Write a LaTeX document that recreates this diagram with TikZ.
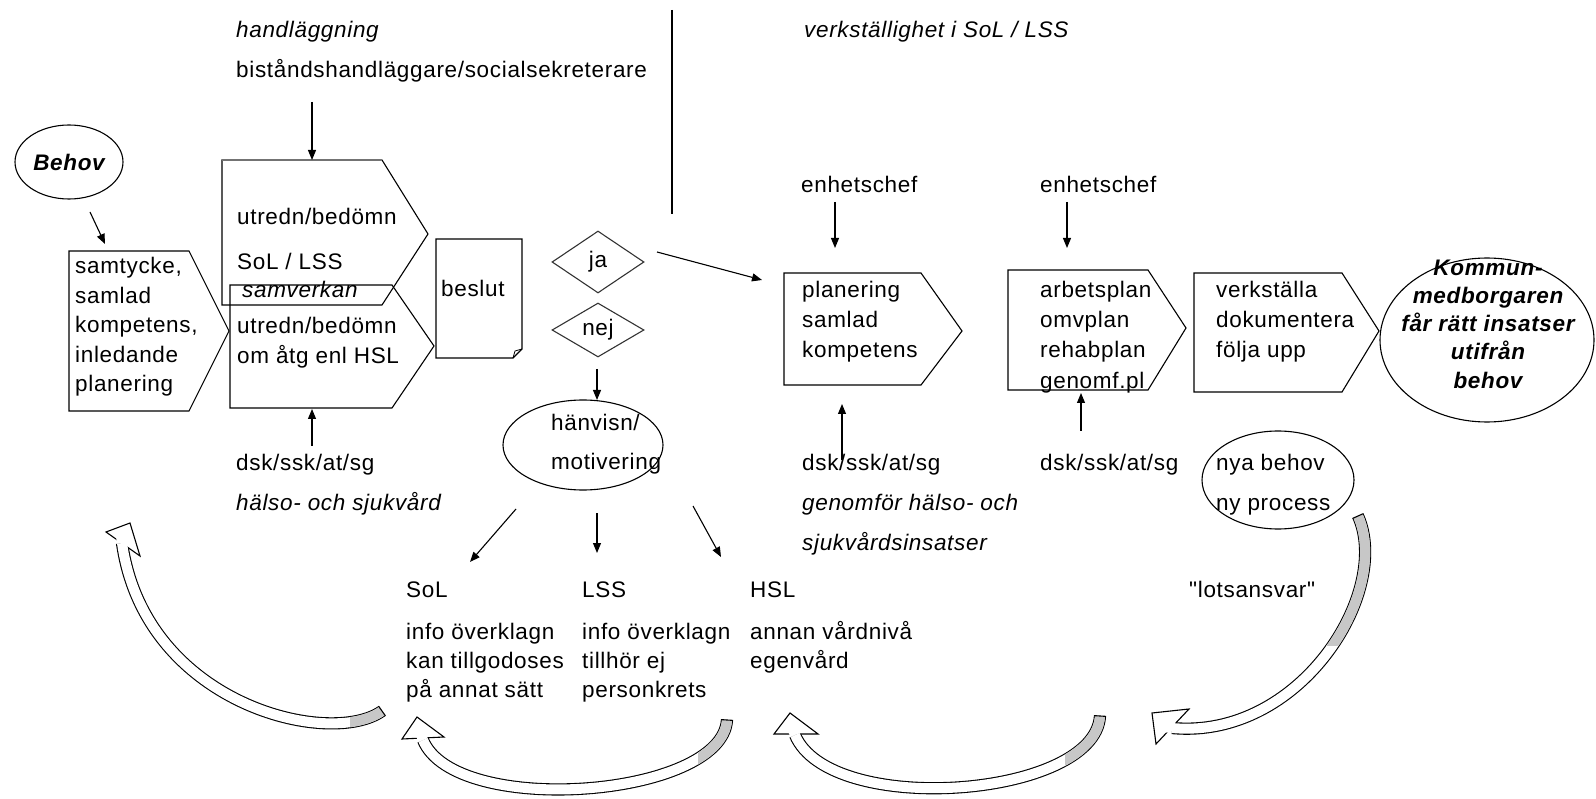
\documentclass[tikz,border=0pt]{standalone}
\usepackage{fontspec}
\setmainfont{Liberation Sans}[LetterSpace=3]
\newfontfamily\qfont{Liberation Sans}[LetterSpace=3, Ligatures=TeXOff]
\usetikzlibrary{shapes.geometric,arrows.meta,calc}
\newcommand{\myfs}{\fontsize{22.5}{29.5}\selectfont}
\newcommand{\bandarrow}[4]{%
  \draw[bandout] (#1T) .. controls (#1C1) and (#1C2) .. (#1E);
  \draw[headst] #2;
  \draw[bandin] (#1T) .. controls (#1C1) and (#1C2) .. (#1E);
  \draw[bandin] (#1E) -- ($(#1E)!-#4!(#1C2)$);
  \begin{scope}
    \clip #3;
    \draw[bandgray] (#1T) .. controls (#1C1) and (#1C2) .. (#1E);
  \end{scope}
  \draw[line width=1.1pt] ($(#1T)!6pt!90:(#1C1)$) -- ($(#1T)!6pt!-90:(#1C1)$);
}
\begin{document}
\begin{tikzpicture}[x=1pt,y=-1pt,
  tx/.style={inner sep=0pt, anchor=base west, font=\myfs},
  itx/.style={inner sep=0pt, anchor=base west, font=\myfs\itshape},
  bitx/.style={inner sep=0pt, anchor=base, font=\myfs\bfseries\itshape},
  shp/.style={draw=black, line width=1.1pt, line join=miter},
  arr/.style={draw=black, line width=1.1pt, -{Triangle[length=10pt,width=8pt]}},
  ell/.style={draw=black, line width=1.1pt, ellipse, inner sep=0pt},
  dia/.style={draw=black!80, line width=1.1pt, diamond, inner sep=0pt, minimum width=92pt, minimum height=62pt, font=\myfs},
  bandout/.style={draw=black, line width=12.2pt},
  bandin/.style={draw=white, line width=10pt},
  bandgray/.style={draw=black!22, line width=10pt},
  headst/.style={fill=white, draw=black, line width=1.1pt, line join=miter},
]
\useasboundingbox (0,0) rectangle (1596,799);

% top texts
\node[itx] (hl) at (236,38) {handläggning};
\node[tx] (bh) at (236,78) {biståndshandläggare/socialsekreterare};
\node[itx] (vk) at (804,38) {verkställighet i SoL / LSS};
\coordinate (vl1) at (672,10); \coordinate (vl2) at (672,214);
\draw[line width=1.3pt] (vl1) -- (vl2);
\node[tx] (ec1) at (801,193) {enhetschef};
\node[tx] (ec2) at (1040,193) {enhetschef};

% Behov
\node[ell, minimum width=108pt, minimum height=74pt, font=\myfs\bfseries\itshape] (behov) at (69,162) {Behov};
\coordinate (ba1) at (90,212); \coordinate (ba2) at (105,244);
\draw[arr] (ba1) -- (ba2);

% samtycke pentagon
\draw[shp] (69,251) coordinate (st) -- (189,251) -- (229,331) -- (189,411) -- (69,411) -- cycle;
\node[tx] (st1) at (75,274) {samtycke,};
\node[tx] (st2) at (75,303.5) {samlad};
\node[tx] (st3) at (75,333) {kompetens,};
\node[tx] (st4) at (75,362.5) {inledande};
\node[tx] (st5) at (75,392) {planering};

% upper and lower pentagons
\draw[shp] (222,160) coordinate (up) -- (382,160) -- (428,234) -- (382,305) -- (222,305) -- cycle;
\draw[draw=black!55, line width=2.6pt] (222,160) -- (382,160);
\draw[shp] (230,285) -- (392,285) -- (434,346) -- (392,408) coordinate (lowb) -- (230,408) -- cycle;
\node[tx] (u1) at (237,225) {utredn/bedömn};
\node[tx] (u2) at (237,270) {SoL / LSS};
\node[itx] (sv) at (242,298) {samverkan};
\node[tx] (l1) at (237,334) {utredn/bedömn};
\node[tx] (l2) at (237,364) {om åtg enl HSL};
\coordinate (ta1) at (312,102); \coordinate (ta2) at (312,160);
\draw[arr] (ta1) -- (ta2);
\coordinate (tb1) at (312,446); \coordinate (tb2) at (312,409);
\draw[arr] (tb1) -- (tb2);
\node[tx] (dsk1) at (236,470) {dsk/ssk/at/sg};
\node[itx] (hs) at (236,510) {hälso- och sjukvård};

% beslut
\draw[shp] (436,239) -- (522,239) -- (522,349) -- (513,358) -- (436,358) -- cycle;
\draw[draw=black, line width=0.8pt] (513,358) -- (515,351) -- (522,349);
\node[tx] (bs) at (441,297) {beslut};

% diamonds
\node[dia] (ja) at (598,262) {ja};
\node[dia, minimum height=54pt] (nej) at (598,330) {nej};
\coordinate (j1) at (657,252); \coordinate (j2) at (762,280);
\draw[arr] (j1) -- (j2);
\coordinate (n1) at (597,369); \coordinate (n2) at (597,400);
\draw[arr] (n1) -- (n2);

% hänvisn
\node[ell, minimum width=160pt, minimum height=90pt] (hv) at (583,445) {};
\node[tx] (hv1) at (551,431) {hänvisn/};
\node[tx] (hv2) at (551,469) {motivering};
\coordinate (h1a) at (516,509); \coordinate (h1b) at (470,562);
\coordinate (h2a) at (597,513); \coordinate (h2b) at (597,553);
\coordinate (h3a) at (693,506); \coordinate (h3b) at (721,557);
\draw[arr] (h1a) -- (h1b);
\draw[arr] (h2a) -- (h2b);
\draw[arr] (h3a) -- (h3b);

% SoL / LSS / HSL blocks
\node[tx] (s1) at (406,597) {SoL};
\node[tx] (s2) at (406,639) {info överklagn};
\node[tx] (s3) at (406,668) {kan tillgodoses};
\node[tx] (s4) at (406,697) {på annat sätt};
\node[tx] (ls1) at (582,597) {LSS};
\node[tx] (ls2) at (582,639) {info överklagn};
\node[tx] (ls3) at (582,668) {tillhör ej};
\node[tx] (ls4) at (582,697) {personkrets};
\node[tx] (hs1) at (750,597) {HSL};
\node[tx] (hs2) at (750,639) {annan vårdnivå};
\node[tx] (hs3) at (750,668) {egenvård};

% planering
\draw[shp] (784,273) -- (921,273) -- (962,331) -- (921,385) -- (784,385) -- cycle;
\node[tx] (p1) at (802,298) {planering};
\node[tx] (p2) at (802,328) {samlad};
\node[tx] (p3) at (802,358) {kompetens};
\coordinate (e1a) at (835,202); \coordinate (e1b) at (835,248);
\draw[arr] (e1a) -- (e1b);
\coordinate (pa1) at (842,460); \coordinate (pa2) at (842,404);
\draw[arr] (pa1) -- (pa2);
\node[tx] (dsk2) at (802,470) {dsk/ssk/at/sg};
\node[itx] (g1) at (802,510) {genomför hälso- och};
\node[itx] (g2) at (802,550) {sjukvårdsinsatser};

% arbetsplan
\draw[shp] (1008,270) -- (1148,270) -- (1186,328) -- (1148,390) -- (1008,390) -- cycle;
\node[tx] (a1) at (1040,298) {arbetsplan};
\node[tx] (a2) at (1040,328) {omvplan};
\node[tx] (a3) at (1040,358) {rehabplan};
\node[tx] (a4) at (1040,389) {genomf.pl};
\coordinate (e2a) at (1067,202); \coordinate (e2b) at (1067,248);
\draw[arr] (e2a) -- (e2b);
\coordinate (aa1) at (1081,431); \coordinate (aa2) at (1081,393);
\draw[arr] (aa1) -- (aa2);
\node[tx] (dsk3) at (1040,470) {dsk/ssk/at/sg};

% verkställa
\draw[shp] (1194,273) -- (1342,273) -- (1379,331) -- (1342,392) -- (1194,392) -- cycle;
\node[tx] (v1) at (1216,298) {verkställa};
\node[tx] (v2) at (1216,328) {dokumentera};
\node[tx] (v3) at (1216,358) {följa upp};

% Kommun
\node[ell, minimum width=214pt, minimum height=164pt] (km) at (1487,340) {};
\node[bitx] (k1) at (1488,276) {Kommun-};
\node[bitx] (k2) at (1488,304) {medborgaren};
\node[bitx] (k3) at (1488,332) {får rätt insatser};
\node[bitx] (k4) at (1488,360) {utifrån};
\node[bitx] (k5) at (1488,389) {behov};

% nya behov
\node[ell, minimum width=152pt, minimum height=98pt] (nb) at (1278,480) {};
\node[tx] (nb1) at (1216,470) {nya behov};
\node[tx] (nb2) at (1216,510) {ny process};
\node[tx, font=\myfs\qfont] (lots) at (1189,597) {"lotsansvar"};

% curved arrow a (left)
\coordinate (aT) at (382,711); \coordinate (aC1) at (330,748); \coordinate (aC2) at (145,705); \coordinate (aE) at (122,543);
\bandarrow{a}{(106,532) -- (130,523) -- (140,556) -- cycle}{(350,680) rectangle (420,760)}{6pt}

% curved arrow b (LSS -> SoL)
\coordinate (bT) at (727,720); \coordinate (bC1) at (722,798); \coordinate (bC2) at (455,818); \coordinate (bE) at (423,740);
\bandarrow{b}{(402,739) -- (417,717) -- (444,737) -- cycle}{(698,690) rectangle (760,799)}{5pt}

% curved arrow c (-> HSL)
\coordinate (cT) at (1100,716); \coordinate (cC1) at (1095,798); \coordinate (cC2) at (830,818); \coordinate (cE) at (795,735);
\bandarrow{c}{(774,734) -- (790,713) -- (818,734) -- cycle}{(1065,690) rectangle (1130,799)}{5pt}

% curved arrow d (lotsansvar)
\coordinate (dT) at (1358,516); \coordinate (dC1) at (1392,592); \coordinate (dC2) at (1300,740); \coordinate (dE) at (1172,728);
\bandarrow{d}{(1152,713) -- (1189,709) -- (1156,744) -- cycle}{(1320,490) rectangle (1420,645)}{7pt}
\end{tikzpicture}
\end{document}
